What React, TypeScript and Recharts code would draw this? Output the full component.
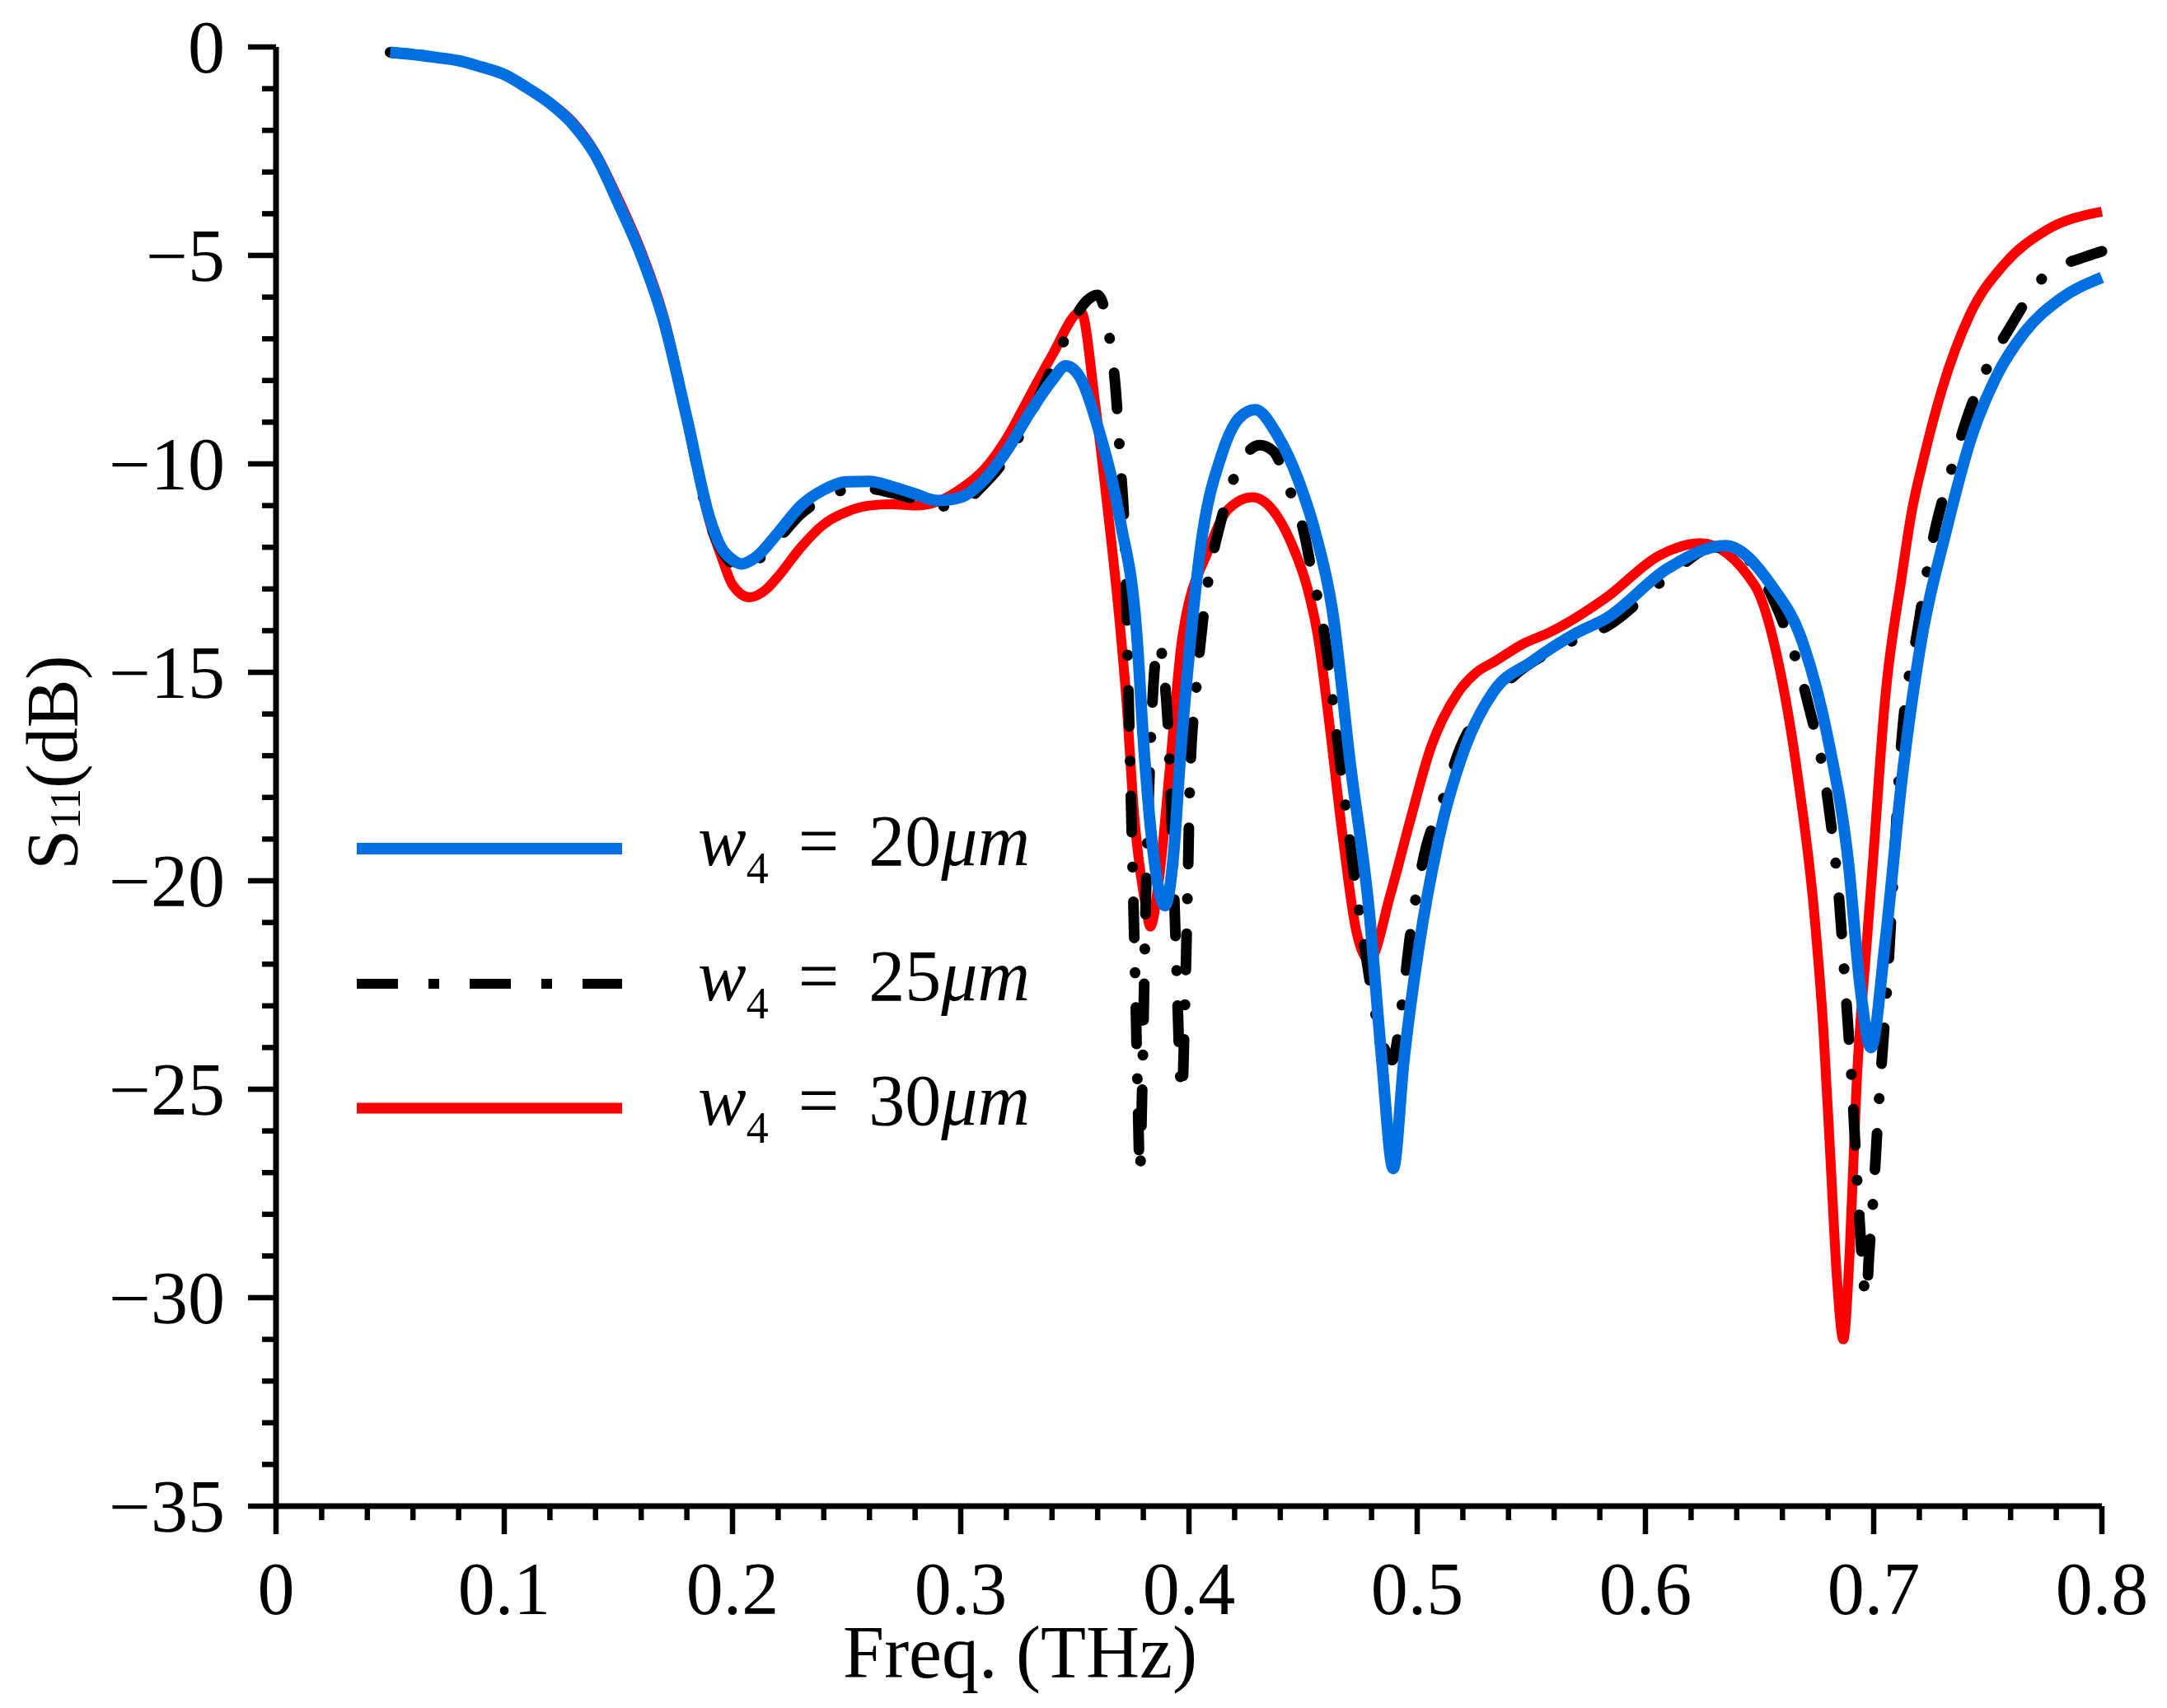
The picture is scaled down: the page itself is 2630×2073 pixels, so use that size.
import React from 'react'
import { LineChart, Line, XAxis, YAxis } from 'recharts'

// S11 curves, frequency in THz, magnitude in dB
const blueFreq = [
  0.05, 0.06, 0.07, 0.08, 0.09, 0.1, 0.11, 0.12, 0.13, 0.14, 0.15, 0.16, 0.17, 0.18, 0.19, 0.195,
  0.2, 0.204, 0.21, 0.22, 0.23, 0.24, 0.25, 0.26, 0.27, 0.28, 0.29, 0.3, 0.31, 0.32, 0.33, 0.34,
  0.346, 0.352, 0.36, 0.37, 0.377, 0.3805, 0.385, 0.3895, 0.3935, 0.396, 0.4, 0.405, 0.4145, 0.422,
  0.429, 0.4386, 0.448, 0.4556, 0.4628, 0.4707, 0.479, 0.4845, 0.4895, 0.4942, 0.5007, 0.5094,
  0.521, 0.5336, 0.55, 0.57, 0.583, 0.61, 0.635, 0.655, 0.669, 0.68, 0.689, 0.694, 0.6988, 0.705,
  0.7123, 0.721, 0.7318, 0.7426, 0.7538, 0.766, 0.7816, 0.8,
]
const blueDb = [
  -0.13, -0.18, -0.25, -0.33, -0.48, -0.66, -0.98, -1.35, -1.85, -2.6, -3.75, -5.0, -6.6, -8.9, -11.3, -12.0,
  -12.3, -12.4, -12.25, -11.65, -11.0, -10.62, -10.43, -10.42, -10.55, -10.72, -10.88, -10.8, -10.4, -9.7, -8.8, -8.0,
  -7.65, -7.9, -9.1, -11.4, -14.0, -17.0, -19.6, -20.6, -19.2, -17.2, -14.6, -12.05, -9.75, -8.9,
  -8.7, -9.3, -10.4, -11.7, -13.5, -17.2, -20.75, -24.3, -26.9, -24.3, -21.6, -19.0,
  -16.8, -15.45, -14.75, -14.05, -13.7, -12.5, -11.96, -12.9, -14.3, -16.6, -19.6, -22.5, -24.0, -21.5,
  -17.6, -14.2, -11.6, -9.4, -7.9, -6.85, -6.05, -5.53,
]

const blackFreq = [
  0.05, 0.06, 0.07, 0.08, 0.09, 0.1, 0.11, 0.12, 0.13, 0.14, 0.15, 0.16, 0.17, 0.18, 0.19, 0.195,
  0.2, 0.205, 0.21, 0.22, 0.23, 0.24, 0.25, 0.26, 0.27, 0.28, 0.29, 0.3, 0.31, 0.32, 0.333, 0.3448,
  0.35, 0.355, 0.36, 0.365, 0.368, 0.37, 0.372, 0.3735, 0.375, 0.3765, 0.3775, 0.3785, 0.3795, 0.381,
  0.383, 0.3855, 0.387, 0.389, 0.391, 0.393, 0.3945, 0.396, 0.397, 0.398, 0.3995, 0.4005, 0.403, 0.406,
  0.4087, 0.4134, 0.42, 0.431, 0.437, 0.444, 0.4506, 0.454, 0.4585, 0.466, 0.4725, 0.477, 0.4825,
  0.489, 0.4935, 0.4967, 0.503, 0.511, 0.519, 0.5256, 0.542, 0.566, 0.583, 0.61, 0.63, 0.64, 0.658,
  0.6708, 0.68, 0.685, 0.6877, 0.6906, 0.693, 0.6968, 0.698, 0.6997, 0.7022, 0.7058, 0.7123, 0.7195,
  0.7264, 0.73, 0.7354, 0.7394, 0.748, 0.76, 0.7755, 0.7913, 0.8,
]
const blackDb = [
  -0.13, -0.18, -0.25, -0.33, -0.48, -0.66, -0.98, -1.35, -1.85, -2.6, -3.75, -5.0, -6.6, -8.9, -11.4, -12.05,
  -12.4, -12.5, -12.35, -11.8, -11.2, -10.82, -10.62, -10.6, -10.7, -10.85, -11.02, -10.95, -10.5, -9.85, -8.55, -7.1,
  -6.5, -6.1, -5.95, -6.9, -8.3, -10.0, -12.0, -15.5, -19.0, -22.5, -25.0, -27.0, -25.0, -20.7,
  -17.0, -14.6, -14.3, -15.0, -16.5, -19.5, -22.0, -24.5, -25.1, -23.5, -20.0, -17.5, -15.5, -13.8,
  -12.7, -11.5, -10.3, -9.55, -9.7, -10.6, -11.7, -12.65, -13.8, -17.05, -19.9, -21.6, -23.4,
  -24.3, -22.9, -21.4, -19.4, -18.1, -16.8, -16.1, -15.1, -14.3, -13.9, -12.7, -12.0, -12.1, -13.5,
  -15.65, -18.1, -20.55, -22.65, -25.0, -27.4, -30.0, -28.95, -27.7, -25.4, -22.6, -16.6, -13.9,
  -11.7, -10.9, -9.9, -9.15, -7.9, -6.7, -5.46, -5.06, -4.9,
]

const redFreq = [
  0.05, 0.06, 0.07, 0.08, 0.09, 0.1, 0.11, 0.12, 0.13, 0.14, 0.15, 0.16, 0.17, 0.18, 0.19, 0.195,
  0.2, 0.2075, 0.215, 0.22, 0.23, 0.24, 0.25, 0.26, 0.27, 0.28, 0.29, 0.3, 0.31, 0.32, 0.33, 0.34,
  0.3527, 0.359, 0.364, 0.3693, 0.3725, 0.3758, 0.3814, 0.383, 0.387, 0.3918, 0.397, 0.4087, 0.417,
  0.4278, 0.4386, 0.446, 0.452, 0.4567, 0.461, 0.4675, 0.4733, 0.479, 0.4884, 0.4967, 0.506, 0.5177,
  0.526, 0.5336, 0.547, 0.5577, 0.583, 0.606, 0.624, 0.6477, 0.658, 0.667, 0.674, 0.678, 0.681, 0.684,
  0.6867, 0.6895, 0.6925, 0.6968, 0.6996, 0.705, 0.7123, 0.7165, 0.722, 0.73, 0.7419, 0.7574, 0.7755, 0.8,
]
const redDb = [
  -0.13, -0.18, -0.25, -0.33, -0.48, -0.66, -0.98, -1.33, -1.8, -2.55, -3.65, -4.9, -6.5, -8.9, -11.4, -12.2,
  -12.9, -13.2, -13.0, -12.7, -12.0, -11.45, -11.15, -11.0, -10.97, -11.0, -10.9, -10.6, -10.15, -9.4, -8.4, -7.4,
  -6.35, -8.6, -10.9, -13.6, -15.6, -18.3, -20.7, -21.1, -19.9, -17.2, -14.2, -12.05, -11.1,
  -10.8, -11.25, -12.05, -13.0, -14.2, -16.0, -19.0, -21.2, -21.9, -20.3, -18.6, -16.8, -15.5,
  -15.0, -14.75, -14.3, -14.05, -13.2, -12.2, -11.9, -12.9, -14.7, -17.6, -20.8, -23.6, -26.6, -29.6,
  -31.0, -28.9, -24.9, -21.6, -19.6, -15.65, -12.7, -11.2, -9.85, -8.2, -6.45, -5.2, -4.4, -3.95,
]

const legendLabels = ['20', '25', '30']

const xMajorTicks = [0, 0.1, 0.2, 0.3, 0.4, 0.5, 0.6, 0.7, 0.8]
const xTickLabels = ['0', '0.1', '0.2', '0.3', '0.4', '0.5', '0.6', '0.7', '0.8']
const yMajorTicks = [0, -5, -10, -15, -20, -25, -30, -35]
const yTickLabels = ['0', '\u22125', '\u221210', '\u221215', '\u221220', '\u221225', '\u221230', '\u221235']

const xTicks = Array.from({ length: 41 }, (_, i) => Math.round(i * 2) / 100)
const yTicks = Array.from({ length: 36 }, (_, i) => -i)

const FONT = "'Liberation Serif', 'Times New Roman', serif"
const BLUE = '#0070E0'
const RED = '#FF0000'
const BLACK = '#000000'

const toPoints = (freq: number[], db: number[]) => freq.map((f, i) => ({ f, db: db[i] }))
const blueData = toPoints(blueFreq, blueDb)
const blackData = toPoints(blackFreq, blackDb)
const redData = toPoints(redFreq, redDb)

function XTick(props: any) {
  const { x, y, payload } = props
  const idx = xMajorTicks.findIndex((t) => Math.abs(t - payload.value) < 1e-6)
  const major = idx >= 0
  return (
    <g>
      <line x1={x} x2={x} y1={y} y2={y + (major ? 34 : 17)} stroke="#000" strokeWidth={6.5} />
      {major && (
        <text x={x} y={y + 131} textAnchor="middle" fontFamily={FONT} fontSize={90} fill="#000">
          {xTickLabels[idx]}
        </text>
      )}
    </g>
  )
}

function YTick(props: any) {
  const { x, y, payload } = props
  const idx = yMajorTicks.findIndex((t) => Math.abs(t - payload.value) < 1e-6)
  const major = idx >= 0
  return (
    <g>
      <line x1={x} x2={x - (major ? 34 : 17)} y1={y} y2={y} stroke="#000" strokeWidth={6.5} />
      {major && (
        <text x={x - 62} y={y + 31} textAnchor="end" fontFamily={FONT} fontSize={90} fill="#000">
          {yTickLabels[idx]}
        </text>
      )}
    </g>
  )
}

function YLabel(props: any) {
  const { viewBox } = props
  const cx = viewBox.x + 85
  const cy = viewBox.y + viewBox.height / 2 - 17
  return (
    <text
      x={cx}
      y={cy}
      textAnchor="middle"
      fontFamily={FONT}
      fontSize={88}
      fill="#000"
      transform={`rotate(-90, ${cx}, ${cy})`}
    >
      S
      <tspan fontSize={52} dy={4}>11</tspan>
      <tspan dy={-4}>(dB)</tspan>
    </text>
  )
}

function XLabel(props: any) {
  const { viewBox } = props
  return (
    <text
      x={viewBox.x + viewBox.width / 2 - 205}
      y={viewBox.y + 208}
      textAnchor="middle"
      fontFamily={FONT}
      fontSize={90}
      fill="#000"
    >
      Freq. (THz)
    </text>
  )
}

const legendStyles = [
  { color: BLUE, width: 14, dash: undefined, rowY: 1022 },
  { color: BLACK, width: 12, dash: '50 37 13 37', rowY: 1186 },
  { color: RED, width: 13, dash: undefined, rowY: 1337 },
]

function LegendBox() {
  return (
    <div style={{ position: 'absolute', left: 425, top: 0, fontFamily: FONT }}>
      {legendLabels.map((val, i) => (
        <div
          key={val}
          style={{
            position: 'absolute',
            top: legendStyles[i].rowY - 60,
            height: 120,
            display: 'flex',
            alignItems: 'center',
          }}
        >
          <svg width={322} height={20} style={{ display: 'block' }}>
            <line
              x1={0}
              x2={322}
              y1={10}
              y2={10}
              stroke={legendStyles[i].color}
              strokeWidth={legendStyles[i].width}
              strokeDasharray={legendStyles[i].dash}
            />
          </svg>
          <div style={{ marginLeft: 92, marginTop: -18, fontSize: 88, lineHeight: 1, whiteSpace: 'nowrap' }}>
            <span style={{ fontStyle: 'italic' }}>w</span>
            <span style={{ fontSize: 54, position: 'relative', top: 22 }}>4</span>
            <span style={{ marginLeft: 36, marginRight: 36 }}>=</span>
            <span>{val}</span>
            <span style={{ fontStyle: 'italic' }}>{'\u03bcm'}</span>
          </div>
        </div>
      ))}
    </div>
  )
}

export default function App() {
  return (
    <div style={{ position: 'relative', width: 2614, height: 2055, background: '#fff' }}>
      <LineChart width={2614} height={2055} margin={{ top: 49, right: 71, left: 0, bottom: 0 }}>
        <XAxis
          type="number"
          dataKey="f"
          domain={[0, 0.8]}
          ticks={xTicks}
          interval={0}
          tickSize={0}
          tickMargin={0}
          tick={<XTick />}
          axisLine={{ stroke: '#000', strokeWidth: 7 }}
          tickLine={false}
          height={235}
          allowDuplicatedCategory={false}
          label={<XLabel />}
        />
        <YAxis
          type="number"
          domain={[-35, 0]}
          ticks={yTicks}
          interval={0}
          tickSize={0}
          tickMargin={0}
          tick={<YTick />}
          axisLine={{ stroke: '#000', strokeWidth: 7 }}
          tickLine={false}
          width={327}
          label={<YLabel />}
        />
        <Line
          data={redData}
          dataKey="db"
          type="monotone"
          stroke={RED}
          strokeWidth={12}
          dot={false}
          activeDot={false}
          isAnimationActive={false}
        />
        <Line
          data={blackData}
          dataKey="db"
          type="monotone"
          stroke={BLACK}
          strokeWidth={13}
          strokeDasharray="44 42 0.5 42"
          strokeLinecap="round"
          dot={false}
          activeDot={false}
          isAnimationActive={false}
        />
        <Line
          data={blueData}
          dataKey="db"
          type="monotone"
          stroke={BLUE}
          strokeWidth={14}
          dot={false}
          activeDot={false}
          isAnimationActive={false}
        />
      </LineChart>
      <LegendBox />
    </div>
  )
}
